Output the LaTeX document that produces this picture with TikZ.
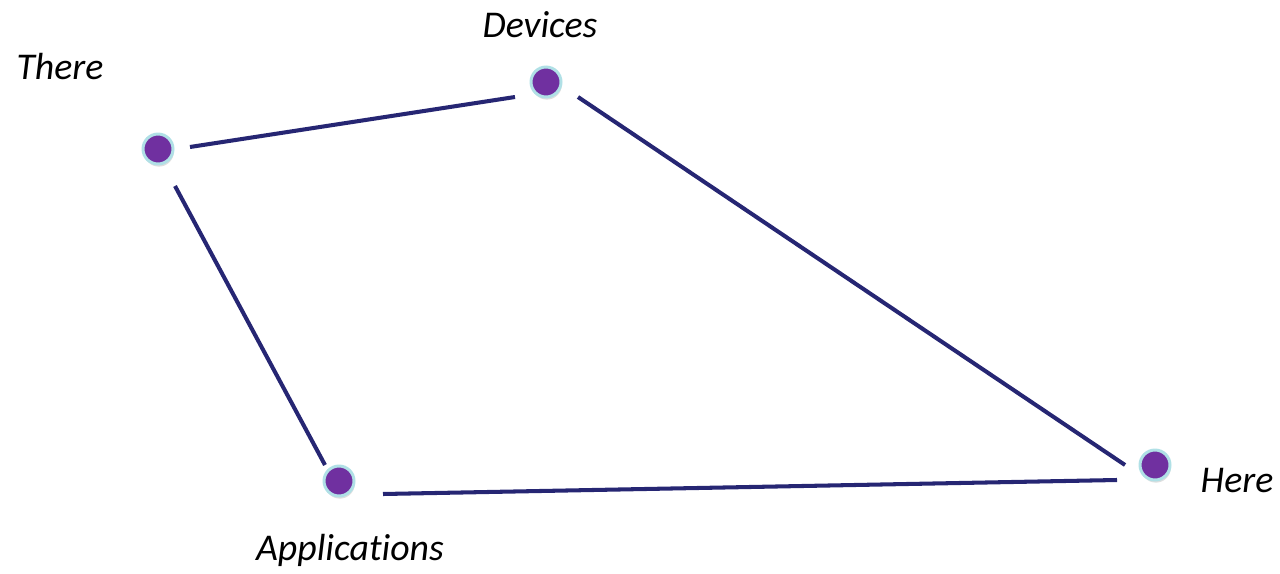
\documentclass[tikz,border=0pt]{standalone}
\usepackage{fontspec}
\setmainfont[Ligatures=NoCommon]{Carlito}
\usepackage{xcolor}
\usepackage{tikz}
\usetikzlibrary{shadows}
\definecolor{dotfill}{RGB}{112,48,160}
\definecolor{dotrim}{RGB}{176,224,230}
\definecolor{edgeblue}{RGB}{38,38,115}

\begin{document}
\begin{tikzpicture}[x=0.02cm, y=-0.02cm,
    dot/.style={circle, fill=dotfill, draw=dotrim, line width=1.7pt, minimum size=0.6cm, inner sep=0pt,
      drop shadow={shadow xshift=0.5pt, shadow yshift=-1.5pt, opacity=0.25}},
    tag/.style={font=\fontsize{21.5}{26}\selectfont\itshape},
    edge/.style={edgeblue, line width=2.3pt}]
  \useasboundingbox (0,0) rectangle (1280,574);
  % corner points ---------------------------------------------------
  \node[dot] (there) at (158,149) {};
  \node[dot] (dev) at (546,82) {};
  \node[dot] (here) at (1155,465) {};
  \node[dot] (app) at (339,481) {};
  % labels ----------------------------------------------------------
  \node[tag] (thereTxt) at (60,67) {There};
  \node[tag] (devTxt) at (540,25) {Devices};
  \node[tag] (hereTxt) at (1237,481) {Here};
  \node[tag] (appTxt) at (350,550) {Applicat\kern0pt ions};
  % edges (kept clear of the points) --------------------------------
  \draw[edge] ([shift={(32,-2)}]there.center) -- ([shift={(-31,15)}]dev.center);
  \draw[edge] ([shift={(32,15)}]dev.center) -- ([shift={(-30,0)}]here.center);
  \draw[edge] ([shift={(17,37)}]there.center) -- ([shift={(-14,-16)}]app.center);
  \draw[edge] ([shift={(44,13)}]app.center) -- ([shift={(-38,15)}]here.center);
\end{tikzpicture}
\end{document}
